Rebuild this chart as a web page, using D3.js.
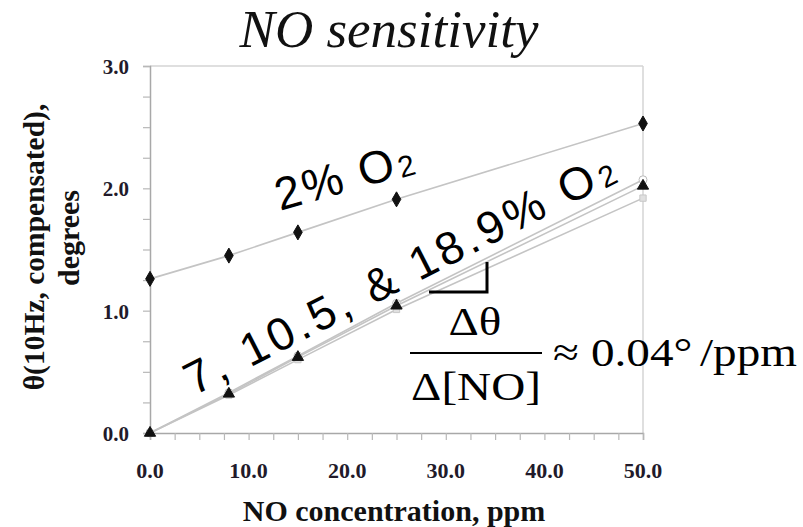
<!DOCTYPE html>
<html><head><meta charset="utf-8">
<script src="https://cdn.jsdelivr.net/npm/d3@7"></script>
<style>body{margin:0;background:#fff}svg{display:block}</style>
</head><body>
<svg id="c" width="803" height="527"></svg>
<script>
const xValues = [0, 8, 15, 25, 50];
const o2_2pct = [1.26, 1.45, 1.64, 1.91, 2.53];
const o2_7pct = [0.0, 0.31, 0.60, 1.01, 1.92];
const o2_10_5pct = [0.0, 0.32, 0.62, 1.04, 2.02];
const o2_18_9pct = [0.0, 0.33, 0.63, 1.06, 2.07];
const xTicks = [0, 10, 20, 30, 40, 50];
const yTicks = [0, 1, 2, 3];

const svg = d3.select("#c");
const x = d3.scaleLinear().domain([0, 50]).range([150, 643]);
const y = d3.scaleLinear().domain([0, 3]).range([433, 66]);
const serif = "'Liberation Serif','Times New Roman',serif";
const sans = "'Liberation Sans',Arial,sans-serif";

// frame (top & right)
svg.append("line").attr("x1", x(0)).attr("x2", x(50)).attr("y1", y(3)).attr("y2", y(3)).attr("stroke", "#d4d4d4").attr("stroke-width", 1.5);
svg.append("line").attr("x1", x(50)).attr("x2", x(50)).attr("y1", y(3)).attr("y2", y(0)).attr("stroke", "#d4d4d4").attr("stroke-width", 1.5);

// axes
const xAxis = d3.axisBottom(x).tickValues(d3.range(0, 50.01, 2.5)).tickSize(7).tickFormat("");
const gx = svg.append("g").attr("transform", `translate(0,${y(0)})`).call(xAxis);
const yAxis = d3.axisLeft(y).tickValues(d3.range(0, 3.01, 0.25)).tickSize(7).tickFormat("");
const gy = svg.append("g").attr("transform", `translate(${x(0)},0)`).call(yAxis);
[gx, gy].forEach(g => {
  g.selectAll("path").attr("stroke", "#a8a8a8").attr("stroke-width", 1.5);
  g.selectAll("line").attr("stroke", "#b8b8b8").attr("stroke-width", 1.2);
});

// tick labels
svg.selectAll(".xl").data(xTicks).join("text")
  .attr("x", d => x(d)).attr("y", 478).attr("text-anchor", "middle")
  .attr("font-family", serif).attr("font-weight", "bold").attr("font-size", 22).attr("fill", "#221a2a")
  .text(d => d.toFixed(1));
svg.selectAll(".yl").data(yTicks).join("text")
  .attr("x", 129).attr("y", d => y(d) + 8).attr("text-anchor", "end")
  .attr("font-family", serif).attr("font-weight", "bold").attr("font-size", 21).attr("fill", "#221a2a")
  .text(d => d.toFixed(1));

// axis titles
svg.append("text").attr("x", 394).attr("y", 521).attr("text-anchor", "middle")
  .attr("font-family", serif).attr("font-weight", "bold").attr("font-size", 30).attr("fill", "#111")
  .text("NO concentration, ppm");
svg.append("text").attr("transform", "translate(44,247) rotate(-90)").attr("text-anchor", "middle")
  .attr("font-family", serif).attr("font-weight", "bold").attr("font-size", 29.5).attr("fill", "#111")
  .text("θ(10Hz, compensated),");
svg.append("text").attr("transform", "translate(79,238) rotate(-90)").attr("text-anchor", "middle")
  .attr("font-family", serif).attr("font-weight", "bold").attr("font-size", 30).attr("fill", "#111")
  .text("degrees");

// title
svg.append("text").attr("x", 389).attr("y", 47).attr("text-anchor", "middle")
  .attr("font-family", serif).attr("font-style", "italic").attr("font-size", 53).attr("fill", "#111")
  .text("NO sensitivity");

// series
const series = [
  {vals: o2_7pct, sym: d3.symbolSquare, size: 40, fill: "#e0e0e0", stroke: "#c8c8c8"},
  {vals: o2_18_9pct, sym: d3.symbolCircle, size: 50, fill: "#fff", stroke: "#bbb"},
  {vals: o2_10_5pct, sym: d3.symbolTriangle, size: 55, fill: "#111", stroke: "#111"},
  {vals: o2_2pct, sym: d3.symbolDiamond, size: 65, fill: "#111", stroke: "#111"}
];
const line = d3.line().x(d => x(d[0])).y(d => y(d[1]));
series.forEach(s => {
  const pts = xValues.map((v, i) => [v, s.vals[i]]);
  svg.append("path").datum(pts).attr("d", line).attr("fill", "none").attr("stroke", "#c4c4c4").attr("stroke-width", 1.6);
});
series.forEach(s => {
  const pts = xValues.map((v, i) => [v, s.vals[i]]);
  svg.selectAll(null).data(pts).join("path")
    .attr("transform", d => `translate(${x(d[0])},${y(d[1])})`)
    .attr("d", d3.symbol(s.sym, s.size)).attr("fill", s.fill).attr("stroke", s.stroke).attr("stroke-width", 1);
});

// annotations
const a1 = svg.append("text").attr("transform", "translate(280,211) rotate(-16)")
  .attr("font-family", sans).attr("font-size", 46).attr("letter-spacing", 2.4).attr("fill", "#000");
a1.append("tspan").text("2% O");
a1.append("tspan").attr("font-size", 30).attr("dx", 1).attr("dy", 2).text("2");
const a2 = svg.append("text").attr("transform", "translate(194,396) rotate(-27)")
  .attr("font-family", sans).attr("font-size", 46).attr("letter-spacing", 3.9).attr("fill", "#000");
a2.append("tspan").text("7, 10.5, & 18.9% O");
a2.append("tspan").attr("font-size", 30).attr("dx", 1).attr("dy", 2).text("2");

// slope bracket
svg.append("path").attr("d", "M429,292 H487 V262").attr("fill", "none").attr("stroke", "#000").attr("stroke-width", 3);

// fraction
const eq = (tx, ty, txt, anchor) => svg.append("text")
  .attr("transform", `translate(${tx},${ty}) scale(1.15,1)`).attr("text-anchor", anchor)
  .attr("font-family", serif).attr("font-size", 41).attr("fill", "#000").text(txt);
eq(475, 335, "Δθ", "middle");
svg.append("line").attr("x1", 410).attr("x2", 542).attr("y1", 353).attr("y2", 353).attr("stroke", "#000").attr("stroke-width", 2);
eq(476, 400, "Δ[NO]", "middle");
eq(553, 366, "≈", "start");
eq(591, 366, "0.04°", "start");
eq(700, 366, "/ppm", "start");
</script>
</body></html>
